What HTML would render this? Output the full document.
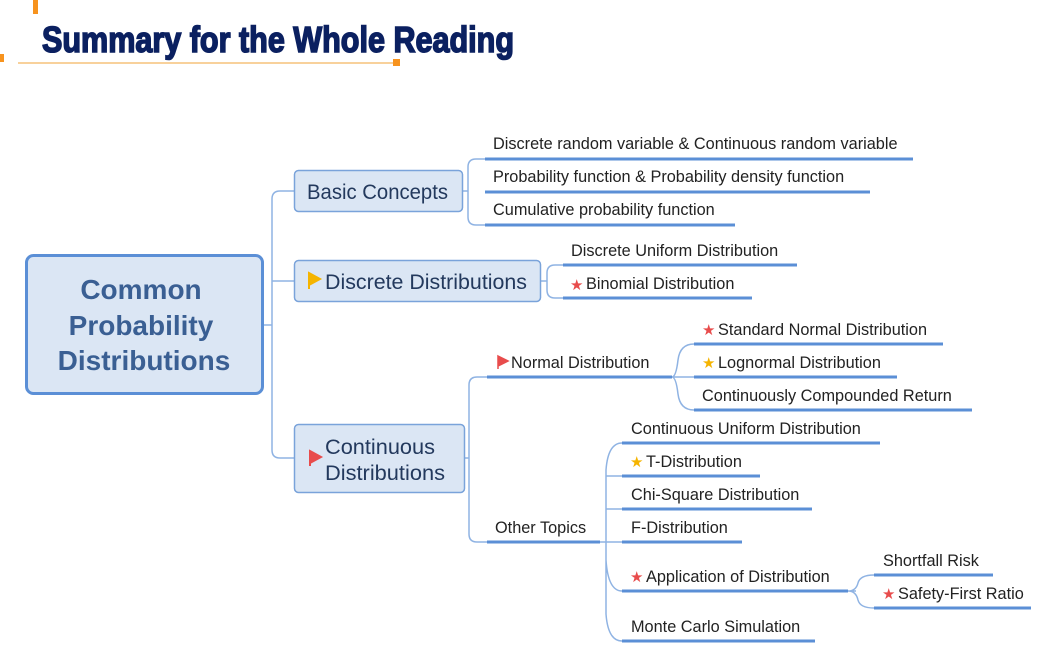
<!DOCTYPE html>
<html><head><meta charset="utf-8"><style>
html,body{margin:0;padding:0;background:#fff;width:1055px;height:668px;overflow:hidden}
svg text{font-family:"Liberation Sans","DejaVu Sans",sans-serif}
</style></head><body>
<svg width="1055" height="668" viewBox="0 0 1055 668" xmlns="http://www.w3.org/2000/svg">
<rect x="33" y="0" width="5" height="14" fill="#f7931e"/>
<rect x="0" y="54" width="4" height="8" fill="#f7931e"/>
<line x1="18" y1="63" x2="395" y2="63" stroke="#f5c27a" stroke-width="1.5"/>
<rect x="393" y="59" width="7" height="7" fill="#f7931e"/>
<text x="42" y="52" font-size="36" font-weight="bold" fill="#0b2060" stroke="#0b2060" stroke-width="1.6" textLength="472" lengthAdjust="spacingAndGlyphs" style="font-family:'Liberation Sans Narrow','Liberation Sans',sans-serif">Summary for the Whole Reading</text>

<g fill="none" stroke="#8fb3e3" stroke-width="1.5">
<path d="M264 325 H272"/>
<path d="M294 191 H280 Q272 191 272 199 V450 Q272 458 280 458 H294"/>
<path d="M272 281 H294"/>
<path d="M463 191 H468 M468 167 V217 M485 159 H476 Q468 159 468 167 M468 217 Q468 225 476 225 H485"/>
<path d="M541 281 H547 M547 273 V290 M563 265 H555 Q547 265 547 273 M547 290 Q547 298 555 298 H563"/>
<path d="M465 458 H469 M469 385 V534 M487 377 H477 Q469 377 469 385 M469 534 Q469 542 477 542 H487"/>
<path d="M672 377 H678 M694 344 Q680 344 678 360 Q676 377 672 377 M694 410 Q680 410 678 394 Q676 377 672 377 M672 377 H694"/>
<path d="M600 542 H606 M622 443 Q608 443 606 470 L606 614 Q608 641 622 641 M606 476 Q608 476 622 476 M606 509 Q608 509 622 509 M606 542 H622 M606 560 Q608 591 622 591"/>
<path d="M848 591 H856 M874 575 Q860 575 858 583 Q856 591 848 591 M874 608 Q860 608 858 600 Q856 591 848 591"/>
</g>

<rect x="26.5" y="255.5" width="236" height="138" rx="7" fill="#dbe6f4" stroke="#5b8fd6" stroke-width="3"/>
<g font-size="28" font-weight="bold" fill="#3a5f93" text-anchor="middle">
<text x="141" y="299">Common</text>
<text x="141" y="335">Probability</text>
<text x="144" y="370">Distributions</text>
</g>

<g fill="#dbe6f4" stroke="#7aa3da" stroke-width="1.5">
<rect x="294.5" y="170.5" width="168" height="41" rx="4"/>
<rect x="294.5" y="260.5" width="246" height="41" rx="4"/>
<rect x="294.5" y="424.5" width="170" height="68" rx="4"/>
</g>
<g font-size="21" fill="#23395d">
<text x="307" y="199" textLength="141" lengthAdjust="spacingAndGlyphs">Basic Concepts</text>
<text x="325" y="289" textLength="202" lengthAdjust="spacingAndGlyphs">Discrete Distributions</text>
<text x="325" y="454" textLength="110" lengthAdjust="spacingAndGlyphs">Continuous</text>
<text x="325" y="480" textLength="120" lengthAdjust="spacingAndGlyphs">Distributions</text>
</g>
<path d="M309 273 V289 M309 273 L320 279 L309 285Z" fill="#f5b400" stroke="#f5b400" stroke-width="2"/>
<path d="M310 451 V466 M310 451 L321 457 L310 463Z" fill="#e84c4c" stroke="#e84c4c" stroke-width="2"/>

<g stroke="#5b8fd6" stroke-width="3">
<line x1="485" y1="159" x2="913" y2="159"/>
<line x1="485" y1="192" x2="870" y2="192"/>
<line x1="485" y1="225" x2="735" y2="225"/>
<line x1="563" y1="265" x2="797" y2="265"/>
<line x1="563" y1="298" x2="752" y2="298"/>
<line x1="487" y1="377" x2="672" y2="377"/>
<line x1="487" y1="542" x2="600" y2="542"/>
<line x1="694" y1="344" x2="943" y2="344"/>
<line x1="694" y1="377" x2="897" y2="377"/>
<line x1="694" y1="410" x2="972" y2="410"/>
<line x1="622" y1="443" x2="880" y2="443"/>
<line x1="622" y1="476" x2="760" y2="476"/>
<line x1="622" y1="509" x2="812" y2="509"/>
<line x1="622" y1="542" x2="742" y2="542"/>
<line x1="622" y1="591" x2="848" y2="591"/>
<line x1="622" y1="641" x2="815" y2="641"/>
<line x1="874" y1="575" x2="993" y2="575"/>
<line x1="874" y1="608" x2="1031" y2="608"/>
</g>

<g font-size="16.3" fill="#222">
<text x="493" y="149">Discrete random variable &amp; Continuous random variable</text>
<text x="493" y="182">Probability function &amp; Probability density function</text>
<text x="493" y="215">Cumulative probability function</text>
<text x="571" y="256">Discrete Uniform Distribution</text>
<text x="586" y="289">Binomial Distribution</text>
<text x="511" y="368">Normal Distribution</text>
<text x="495" y="533">Other Topics</text>
<text x="718" y="335">Standard Normal Distribution</text>
<text x="718" y="368">Lognormal Distribution</text>
<text x="702" y="401">Continuously Compounded Return</text>
<text x="631" y="434">Continuous Uniform Distribution</text>
<text x="646" y="467">T-Distribution</text>
<text x="631" y="500">Chi-Square Distribution</text>
<text x="631" y="533">F-Distribution</text>
<text x="646" y="582">Application of Distribution</text>
<text x="631" y="632">Monte Carlo Simulation</text>
<text x="883" y="566">Shortfall Risk</text>
<text x="898" y="599">Safety-First Ratio</text>
</g>
<g font-size="15">
<text x="570" y="290" fill="#e84c4c">★</text>
<text x="702" y="335" fill="#e84c4c">★</text>
<text x="702" y="368" fill="#f5b400">★</text>
<text x="630" y="467" fill="#f5b400">★</text>
<text x="630" y="582" fill="#e84c4c">★</text>
<text x="882" y="599" fill="#e84c4c">★</text>
</g>
<path d="M498 356 V369 M498 356 L508 361 L498 366Z" fill="#e84c4c" stroke="#e84c4c" stroke-width="1.5"/>
</svg>
</body></html>
